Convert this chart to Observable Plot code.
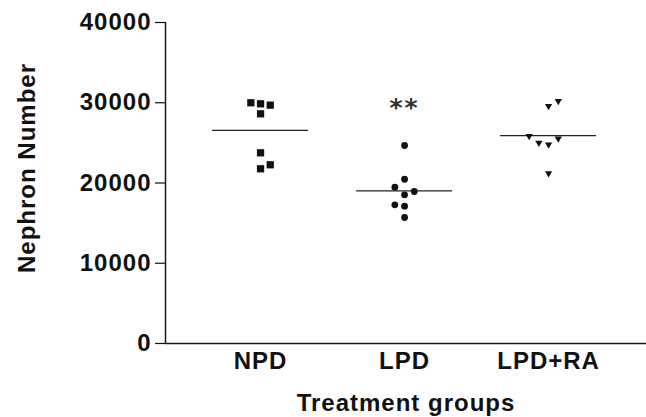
<!DOCTYPE html>
<html><head><meta charset="utf-8">
<script src="https://cdn.jsdelivr.net/npm/d3@7"></script>
<script src="https://cdn.jsdelivr.net/npm/@observablehq/plot@0.6"></script>
<style>
body{margin:0;background:#fff}
svg text{letter-spacing:1px}
</style>
</head><body><div id="chart"></div>
<script>
const groups = ["NPD", "LPD", "LPD+RA"];
const yTicks = [0, 10000, 20000, 30000, 40000];
const npdValues = [30000, 29870, 29700, 28620, 23760, 22270, 21770];
const npdSlots  = [-1, 0, 1, 0, 0, 1, 0];
const lpdValues = [24670, 20470, 19480, 18940, 18530, 17280, 17110, 15700];
const lpdSlots  = [0, 0, -1, 1, 0, -1, 0, 0];
const raValues  = [30070, 29450, 25710, 25420, 24880, 24670, 21060];
const raSlots   = [1, 0, -2, 1, -1, 0, 0];
const significance = [{group: 1, label: "**", y: 30000}];
const xTitle = "Treatment groups";
const yTitle = "Nephron Number";

const xStep = 0.0674;
const xDomain = [-0.66, 2.68];

const toPts = (vals, slots, g) => vals.map((v, k) => ({g, v, s: slots[k]}));
const npdPts = toPts(npdValues, npdSlots, 0);
const lpdPts = toPts(lpdValues, lpdSlots, 1);
const raPts = toPts(raValues, raSlots, 2);
const means = [npdValues, lpdValues, raValues].map((vals, g) => ({g, mean: d3.mean(vals)}));

const triangleDown = {
  draw(ctx, size) {
    const s = Math.sqrt(size);
    ctx.moveTo(-s / 2, -s * 0.43);
    ctx.lineTo(s / 2, -s * 0.43);
    ctx.lineTo(0, s * 0.43);
    ctx.closePath();
  }
};

const px = d => d.g + d.s * xStep;
const ink = "#111";

const chart = Plot.plot({
  width: 646,
  height: 417,
  marginTop: 22,
  marginBottom: 74,
  marginLeft: 165,
  marginRight: 0,
  style: {fontSize: "24px", fontFamily: "'Liberation Sans', Arial, sans-serif", fontWeight: "bold", color: "#111", background: "#fff"},
  x: {type: "linear", domain: xDomain},
  y: {domain: [0, 40000]},
  marks: [
    Plot.ruleY([0], {stroke: "#1a1a1a", strokeWidth: 1.5}),
    Plot.ruleX([xDomain[0]], {y1: 0, y2: 40000, stroke: "#1a1a1a", strokeWidth: 1.5}),
    Plot.axisY({ticks: yTicks, tickFormat: d3.format("d"), tickSize: 10, tickPadding: 4, label: null, strokeWidth: 1.2}),
    Plot.axisX({ticks: [0, 1, 2], tickFormat: i => groups[i], tickSize: 0, tickPadding: 8, label: null}),
    Plot.ruleY(means, {x1: d => d.g - 0.333, x2: d => d.g + 0.333, y: "mean", stroke: "#222", strokeWidth: 1.3}),
    Plot.dot(npdPts, {x: px, y: "v", symbol: "square", r: 4.1, fill: ink, stroke: "none"}),
    Plot.dot(lpdPts, {x: px, y: "v", symbol: "circle", r: 3.4, fill: ink, stroke: "none"}),
    Plot.dot(raPts, {x: px, y: "v", symbol: triangleDown, r: 4.1, fill: ink, stroke: "none"}),
    Plot.text(significance, {x: "group", y: "y", text: "label", fontFamily: "'DejaVu Sans', sans-serif", fontWeight: "bold", fontSize: 25, fill: "#333", lineAnchor: "bottom", dy: 13}),
    Plot.text([xTitle], {text: d => d, frameAnchor: "bottom", lineAnchor: "bottom", dy: 67, fill: ink}),
    Plot.text([yTitle], {text: d => d, frameAnchor: "left", textAnchor: "middle", rotate: -90, lineAnchor: "bottom", dx: -131, dy: -15, fill: ink})
  ]
});
chart.querySelectorAll("text").forEach(t => { if (t.textContent === "**") t.style.letterSpacing = "2px"; });
document.getElementById("chart").appendChild(chart);
</script>
</body></html>
